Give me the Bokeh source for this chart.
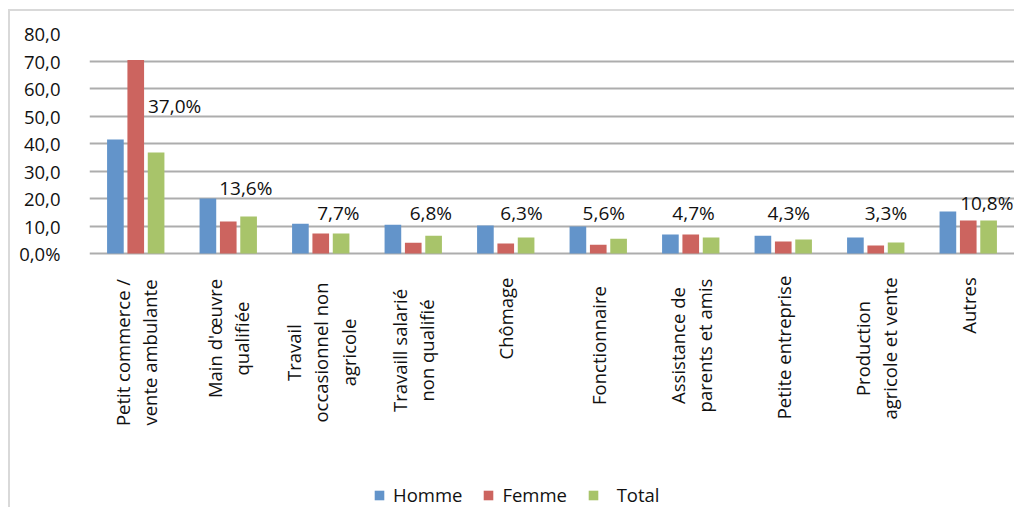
from bokeh.plotting import figure
from bokeh.models import Range1d, Legend, LegendItem, FixedTicker, ColumnDataSource
from bokeh.core.properties import value
from bokeh.embed import file_html
from bokeh.resources import INLINE
import math

# ---------------- data ----------------
categories = [
    ["Petit commerce /", "vente ambulante"],
    ["Main d'œuvre", "qualifiée"],
    ["Travail", "occasionnel non", "agricole"],
    ["Travaill salarié", "non qualifié"],
    ["Chômage"],
    ["Fonctionnaire"],
    ["Assistance de", "parents et amis"],
    ["Petite entreprise"],
    ["Production", "agricole et vente"],
    ["Autres"],
]
homme = [41.5, 20.0, 10.8, 10.5, 10.2, 9.8, 6.9, 6.5, 5.8, 15.3]
femme = [70.4, 11.6, 7.3, 3.9, 3.6, 3.2, 6.9, 4.4, 2.9, 12.0]
total = [36.7, 13.5, 7.3, 6.5, 5.8, 5.4, 5.8, 5.1, 4.0, 12.0]
total_labels = ["37,0%", "13,6%", "7,7%", "6,8%", "6,3%", "5,6%", "4,7%", "4,3%", "3,3%", "10,8%"]
y_ticks = [0, 10, 20, 30, 40, 50, 60, 70, 80]
y_tick_labels = ["0,0%", "10,0", "20,0", "30,0", "40,0", "50,0", "60,0", "70,0", "80,0"]
series_names = ["Homme", "Femme", "\u00a0\u00a0Total"]

# ---------------- layout / style ----------------
label_dx = [0.42, 0.19, 0.19, 0.19, 0.17, 0.06, 0.03, 0.06, 0.11, 0.2]   # data-label x offsets
label_y = [53.5, 24.0, 14.9, 14.9, 14.9, 14.9, 14.9, 14.9, 14.9, 18.2]   # data-label centres
cat_label_drop = [99, 85, 99, 97, 65, 92, 92, 94, 95, 52]                # px below axis (block centre)
colors = ["#6394CA", "#CC645F", "#A8C46A"]
FONT = "Open Sans"
FS = "18.5px"
FS_DATA = "19px"
TXT = "#111111"

W, H = 1014, 507
BL, BR, BT, BB = 89, 0, 33, 0
px_per_unit = 220 / 80
frame_h = H - BT - BB
y_min = 80 - frame_h / px_per_unit

p = figure(width=W, height=H, output_backend="svg", toolbar_location=None,
           x_range=Range1d(-0.5, 9.5), y_range=Range1d(y_min, 80),
           min_border_left=BL, min_border_right=BR, min_border_top=BT, min_border_bottom=BB)
p.outline_line_color = None
p.background_fill_color = "white"
p.border_fill_color = None
p.styles = {"background": "linear-gradient(#D9D9D9,#D9D9D9) 8px 9px / 2px 100% no-repeat, "
                          "linear-gradient(#D9D9D9,#D9D9D9) 8px 9px / 100% 2px no-repeat, white"}
p.xaxis.visible = False

idx = list(range(len(categories)))
offs = [-0.22, 0.0, 0.22]
renderers = []
for series, off, col in zip([homme, femme, total], offs, colors):
    src = ColumnDataSource(dict(x=[i + off for i in idx], top=series))
    r = p.vbar(x="x", top="top", bottom=0, width=0.18, source=src, fill_color=col, line_color=None)
    renderers.append(r)

# data labels
lsrc = ColumnDataSource(dict(x=[i + d for i, d in zip(idx, label_dx)], y=label_y, t=total_labels))
p.text(x="x", y="y", text="t", source=lsrc, text_align="center", text_baseline="middle",
       text_font=value(FONT), text_font_size=FS_DATA, text_color=TXT)

# grid & y axis
p.xgrid.visible = False
p.ygrid.ticker = FixedTicker(ticks=y_ticks)
p.ygrid.grid_line_color = "#ADADAD"
p.ygrid.grid_line_width = 2

p.yaxis.ticker = FixedTicker(ticks=y_ticks)
p.yaxis.major_label_overrides = {t: s for t, s in zip(y_ticks, y_tick_labels)}
p.yaxis.axis_line_color = None
p.yaxis.major_tick_line_color = None
p.yaxis.minor_tick_line_color = None
p.yaxis.major_label_text_font = FONT
p.yaxis.major_label_text_font_size = FS
p.yaxis.major_label_text_color = TXT
p.yaxis.major_label_standoff = 23

# category labels (rotated text glyphs under the baseline)
line_gap = 0.297
cx, cy, ct = [], [], []
for i, lines in enumerate(categories):
    n = len(lines)
    for j, line in enumerate(lines):
        cx.append(i + (j - (n - 1) / 2) * line_gap)
        cy.append(-cat_label_drop[i] / px_per_unit)
        ct.append(line)
csrc = ColumnDataSource(dict(x=cx, y=cy, t=ct))
p.text(x="x", y="y", text="t", source=csrc, angle=math.pi / 2, text_align="center",
       text_baseline="middle", text_font=value(FONT), text_font_size=FS, text_color=TXT)

# legend
legend = Legend(items=[LegendItem(label=n, renderers=[r]) for n, r in zip(series_names, renderers)],
                location=(284, 0), orientation="horizontal",
                glyph_width=12, glyph_height=12, label_standoff=8, spacing=20,
                padding=0, margin=0, border_line_color=None, background_fill_alpha=0,
                label_text_font=FONT, label_text_font_size=FS, label_text_color=TXT)
p.add_layout(legend, "center")

open("out.html", "w").write(file_html(p, INLINE))
